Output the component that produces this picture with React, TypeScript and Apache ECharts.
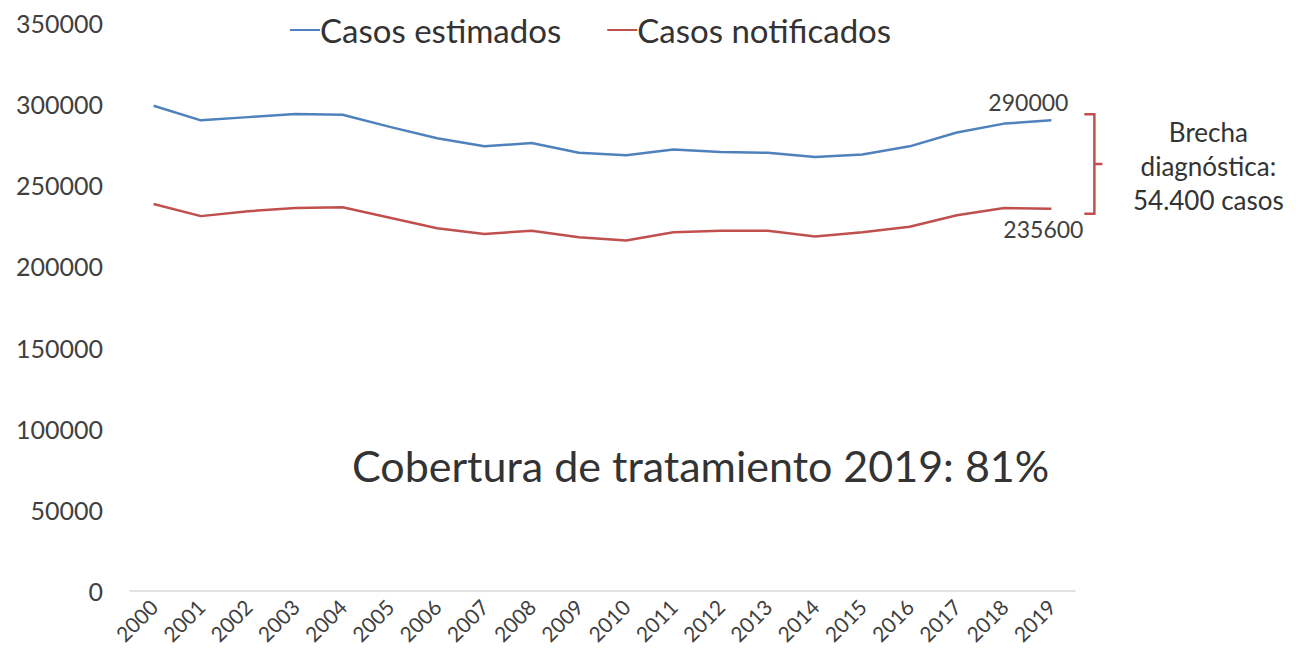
import React, { useEffect, useRef } from "react";
import * as echarts from "echarts";

const years = [
  "2000", "2001", "2002", "2003", "2004", "2005", "2006", "2007", "2008", "2009",
  "2010", "2011", "2012", "2013", "2014", "2015", "2016", "2017", "2018", "2019",
];
const casosEstimados = [
  299000, 290000, 292000, 294000, 293500, 286000, 279000, 274000, 276000, 270000,
  268500, 272000, 270500, 270000, 267500, 269000, 274000, 282500, 288000, 290000,
];
const casosNotificados = [
  238500, 231000, 234000, 236000, 236500, 230000, 223500, 220000, 222000, 218000,
  216000, 221000, 222000, 222000, 218500, 221000, 224500, 231500, 236000, 235600,
];
const seriesNames = ["Casos estimados", "Casos notificados"];
const gapText = "Brecha\ndiagnóstica:\n54.400 casos";
const coverageText = "Cobertura de tratamiento 2019: 81%";

const BLUE = "#4F81BD";
const RED = "#C0504D";
const TEXT = "#404040";
const FONT = "Lato";

export default function App() {
  const ref = useRef<HTMLDivElement>(null);

  useEffect(() => {
    if (!ref.current) return;
    const chart = echarts.init(ref.current, undefined, { renderer: "svg" });
    const last = years.length - 1;

    const withLastLabel = (arr: number[], position: string, offset: number[]) =>
      arr.map((v, i) =>
        i === last
          ? {
              value: v,
              label: {
                show: true,
                position,
                offset,
                formatter: (p: any) => String(p.value),
                fontFamily: FONT,
                fontSize: 23,
                color: TEXT,
              },
            }
          : v
      );

    chart.setOption({
      animation: false,
      backgroundColor: "#ffffff",
      legend: {
        top: 3,
        left: 282,
        padding: 0,
        itemWidth: 30,
        itemHeight: 2,
        itemGap: 46,
        icon: "rect",
        textStyle: {
          fontFamily: FONT,
          fontSize: 33,
          lineHeight: 38,
          color: "#333",
          padding: [0, 0, 0, -5],
        },
        data: seriesNames,
      },
      grid: { left: 122, right: 213, top: 15, bottom: 73, containLabel: false },
      xAxis: {
        type: "category",
        data: years,
        boundaryGap: true,
        axisLine: { show: true, lineStyle: { color: "#d9d9d9", width: 1.5 } },
        axisTick: { show: false },
        axisLabel: {
          interval: 0,
          rotate: 45,
          fontFamily: FONT,
          fontSize: 21,
          color: TEXT,
          margin: 12,
        },
        splitLine: { show: false },
      },
      yAxis: {
        type: "value",
        min: 0,
        max: 350000,
        interval: 50000,
        axisLine: { show: false },
        axisTick: { show: false },
        splitLine: { show: false },
        axisLabel: {
          fontFamily: FONT,
          fontSize: 25,
          color: TEXT,
          margin: 27,
          formatter: (v: number) => String(v),
        },
      },
      series: [
        {
          name: seriesNames[0],
          type: "line",
          data: withLastLabel(casosEstimados, "top", [-23, -2]),
          symbol: "circle",
          symbolSize: 0,
          showSymbol: true,
          lineStyle: { color: BLUE, width: 2.5 },
          itemStyle: { color: BLUE },
        },
        {
          name: seriesNames[1],
          type: "line",
          data: withLastLabel(casosNotificados, "bottom", [-8, 4]),
          symbol: "circle",
          symbolSize: 0,
          showSymbol: true,
          lineStyle: { color: RED, width: 2.5 },
          itemStyle: { color: RED },
        },
      ],
    });

    const pTop = chart.convertToPixel({ gridIndex: 0 }, [last, casosEstimados[last]]) as number[];
    const pBot = chart.convertToPixel({ gridIndex: 0 }, [last, casosNotificados[last]]) as number[];
    const pMid = chart.convertToPixel({ gridIndex: 0 }, [4, 100000]) as number[];
    const bx = pTop[0] + 43;
    const yTop = pTop[1] - 6;
    const yBot = pBot[1] + 5;
    const yMid = (yTop + yBot) / 2;

    chart.setOption({
      graphic: [
        {
          type: "polyline",
          shape: { points: [[bx - 10, yTop], [bx, yTop], [bx, yBot], [bx - 10, yBot]] },
          style: { stroke: RED, lineWidth: 2.5, fill: null },
        },
        {
          type: "line",
          shape: { x1: bx, y1: yMid, x2: bx + 8, y2: yMid },
          style: { stroke: RED, lineWidth: 2.5 },
        },
        {
          type: "text",
          x: bx + 114,
          y: yMid + 2,
          style: {
            text: gapText,
            fontFamily: FONT,
            fontSize: 26,
            lineHeight: 34,
            fill: "#333",
            align: "center",
            verticalAlign: "middle",
          },
        },
        {
          type: "text",
          x: 344,
          y: pMid[1] + 37,
          style: {
            text: coverageText,
            fontFamily: FONT,
            fontSize: 43,
            fill: "#333",
            align: "left",
            verticalAlign: "middle",
          },
        },
      ],
    });

    return () => chart.dispose();
  }, []);

  return <div ref={ref} style={{ width: 1280, height: 656 }} />;
}
